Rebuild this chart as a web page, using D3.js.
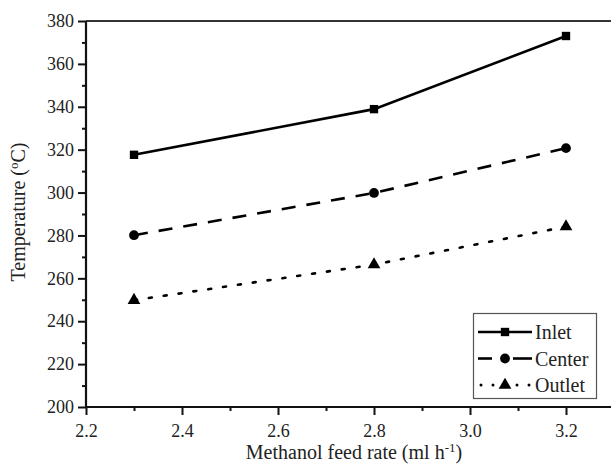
<!DOCTYPE html>
<html><head><meta charset="utf-8">
<script src="https://cdn.jsdelivr.net/npm/d3@7"></script>
<style>body{margin:0;background:#fff}svg{display:block}</style>
</head><body><svg id="c" width="611" height="466" font-family="Liberation Serif" fill="#222"></svg>
<script>
const feedRates = [2.3, 2.8, 3.2];
const inlet = [317.6, 338.9, 373];
const center = [280.1, 299.8, 320.7];
const outlet = [249.8, 266.4, 284.1];
const seriesNames = ["Inlet", "Center", "Outlet"];
const xTicks = [2.2, 2.4, 2.6, 2.8, 3.0, 3.2];
const yTicks = [200, 220, 240, 260, 280, 300, 320, 340, 360, 380];

const FONT = "Liberation Serif";
const svg = d3.select("#c");
const L = 86, T = 21, B = 407;
const x = d3.scaleLinear().domain([2.2, 3.2]).range([L, 566]);
const y = d3.scaleLinear().domain([200, 380]).range([B, T]);
const R = 640;

svg.append("line").attr("x1", L).attr("x2", R).attr("y1", T).attr("y2", T).attr("stroke", "#333").attr("stroke-width", 2);

const yMinor = d3.range(210, 380, 20);
const xMinor = d3.range(2.3, 3.35, 0.2);
const gy = svg.append("g").attr("transform", `translate(${L},0)`)
  .call(d3.axisLeft(y).tickValues(yTicks).tickSize(8).tickPadding(4).tickFormat(d3.format("d")));
svg.append("g").attr("transform", `translate(${L},0)`)
  .call(d3.axisLeft(y).tickValues(yMinor).tickSize(4).tickFormat(""))
  .call(g => g.select(".domain").remove());
const gx = svg.append("g").attr("transform", `translate(0,${B})`)
  .call(d3.axisBottom(x).tickValues(xTicks).tickSize(8).tickPadding(9).tickFormat(d3.format(".1f")));
svg.append("g").attr("transform", `translate(0,${B})`)
  .call(d3.axisBottom(x).tickValues(xMinor).tickSize(4).tickFormat(""))
  .call(g => g.select(".domain").remove());
svg.selectAll("g").attr("font-family", FONT).attr("font-size", 18);
svg.selectAll(".tick line").attr("stroke", "#111").attr("stroke-width", 2);
svg.selectAll(".domain").attr("stroke", "#111").attr("stroke-width", 2.2);
gx.select(".domain").attr("d", `M${L},0H${R}`);
gy.select(".domain").attr("d", `M0,${B}V${T}`);
svg.selectAll(".tick text").attr("font-family", FONT).attr("font-size", 18).attr("fill", "#222");

// axis titles
const xt = svg.append("text").attr("x", 354).attr("y", 459).attr("text-anchor", "middle")
  .attr("font-family", FONT).attr("font-size", 20).attr("fill", "#222");
xt.append("tspan").text("Methanol feed rate (ml h");
xt.append("tspan").attr("dy", -7).attr("font-size", 13).text("-1");
xt.append("tspan").attr("dy", 7).text(")");
const yt = svg.append("text").attr("transform", "translate(25,212) rotate(-90)").attr("text-anchor", "middle")
  .attr("font-family", FONT).attr("font-size", 20).attr("fill", "#222");
yt.append("tspan").text("Temperature (");
yt.append("tspan").attr("dy", -7).attr("font-size", 13).text("o");
yt.append("tspan").attr("dy", 7).text("C)");

const series = [
  {name: seriesNames[0], vals: inlet, dash: null, sym: d3.symbolSquare, size: 70},
  {name: seriesNames[1], vals: center, dash: "14,11", sym: d3.symbolCircle, size: 75},
  {name: seriesNames[2], vals: outlet, dash: "3,12", sym: d3.symbolTriangle, size: 70}
];
const line = d3.line().x(d => x(d[0])).y(d => y(d[1]));
series.forEach(s => {
  const pts = feedRates.map((f, i) => [f, s.vals[i]]);
  svg.append("path").attr("d", line(pts)).attr("fill", "none").attr("stroke", "#000")
    .attr("stroke-width", 2.6).attr("stroke-dasharray", s.dash).attr("stroke-linecap", s.dash === "3,12" ? "round" : "butt");
  svg.selectAll(null).data(pts).enter().append("path")
    .attr("transform", d => `translate(${x(d[0])},${y(d[1])})`)
    .attr("d", d3.symbol().type(s.sym).size(s.size)).attr("fill", "#000");
});

// legend
const lg = svg.append("g");
lg.append("rect").attr("x", 473.5).attr("y", 313.5).attr("width", 123).attr("height", 85)
  .attr("fill", "#fff").attr("stroke", "#555").attr("stroke-width", 1.2);
series.forEach((s, i) => {
  const yy = 332 + i * 26.5;
  if (s.dash === null) {
    lg.append("line").attr("x1", 478).attr("x2", 532).attr("y1", yy).attr("y2", yy).attr("stroke", "#000").attr("stroke-width", 2.6);
  } else if (i === 1) {
    [[478, 492], [513, 532]].forEach(p => lg.append("line").attr("x1", p[0]).attr("x2", p[1]).attr("y1", yy).attr("y2", yy).attr("stroke", "#000").attr("stroke-width", 2.6));
  } else {
    [481, 493, 517, 529].forEach(px => lg.append("circle").attr("cx", px).attr("cy", yy).attr("r", 1.5).attr("fill", "#000"));
  }
  lg.append("path").attr("transform", `translate(505,${yy})`).attr("d", d3.symbol().type(s.sym).size(s.size)).attr("fill", "#000");
  lg.append("text").attr("x", 535).attr("y", yy + 7).attr("font-family", FONT).attr("font-size", 20).attr("fill", "#222").text(s.name);
});
</script></body></html>
